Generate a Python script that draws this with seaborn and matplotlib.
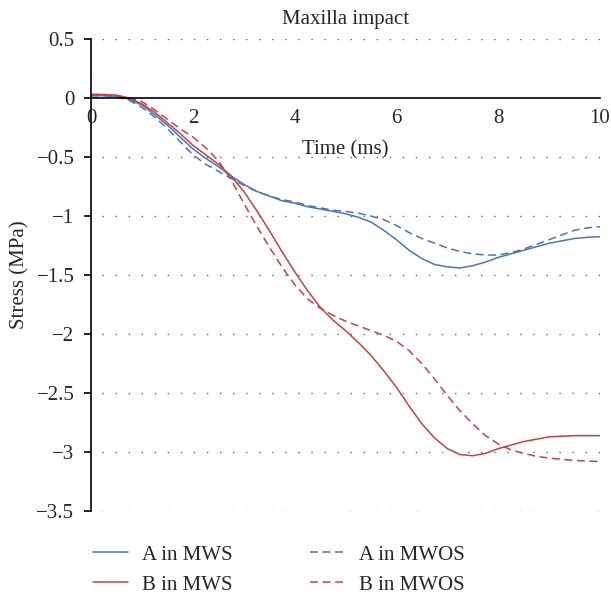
import numpy as np
import pandas as pd
import matplotlib
matplotlib.use("Agg")
import matplotlib.pyplot as plt
import seaborn as sns

time_ms = [0, 0.25, 0.5, 0.75, 1, 1.25, 1.5, 1.75, 2, 2.25, 2.5, 2.75, 3, 3.25, 3.5, 3.75,
           4, 4.25, 4.5, 4.75, 5, 5.25, 5.5, 5.75, 6, 6.25, 6.5, 6.75, 7, 7.25, 7.5, 7.75,
           8, 8.25, 8.5, 8.75, 9, 9.25, 9.5, 9.75, 10]
a_mws = [0.02, 0.02, 0.015, -0.01, -0.06, -0.14, -0.23, -0.33, -0.43, -0.51, -0.58, -0.66,
         -0.73, -0.79, -0.83, -0.87, -0.89, -0.92, -0.94, -0.96, -0.98, -1.01, -1.05, -1.12,
         -1.20, -1.29, -1.36, -1.41, -1.43, -1.44, -1.42, -1.39, -1.35, -1.32, -1.29, -1.26,
         -1.23, -1.21, -1.19, -1.18, -1.175]
a_mwos = [0.02, 0.02, 0.01, -0.02, -0.08, -0.16, -0.26, -0.37, -0.48, -0.56, -0.62, -0.68,
          -0.74, -0.79, -0.83, -0.86, -0.88, -0.91, -0.93, -0.95, -0.96, -0.975, -1.0, -1.03,
          -1.08, -1.14, -1.19, -1.23, -1.27, -1.30, -1.32, -1.33, -1.33, -1.31, -1.28, -1.24,
          -1.20, -1.16, -1.12, -1.10, -1.09]
b_mws = [0.03, 0.03, 0.025, 0.0, -0.05, -0.12, -0.21, -0.30, -0.40, -0.48, -0.56, -0.66,
         -0.79, -0.95, -1.12, -1.30, -1.47, -1.63, -1.77, -1.88, -1.97, -2.07, -2.18, -2.31,
         -2.45, -2.61, -2.76, -2.88, -2.97, -3.02, -3.03, -3.01, -2.97, -2.94, -2.91, -2.89,
         -2.87, -2.865, -2.86, -2.86, -2.86]
b_mwos = [0.03, 0.03, 0.02, 0.0, -0.03, -0.10, -0.18, -0.26, -0.33, -0.42, -0.53, -0.69,
          -0.89, -1.08, -1.26, -1.43, -1.58, -1.70, -1.78, -1.84, -1.89, -1.93, -1.97, -2.01,
          -2.06, -2.14, -2.25, -2.38, -2.52, -2.65, -2.76, -2.86, -2.93, -2.98, -3.01, -3.035,
          -3.05, -3.06, -3.07, -3.075, -3.08]

series_names = ["A in MWS", "B in MWS", "A in MWOS", "B in MWOS"]
x_ticks = [0, 2, 4, 6, 8, 10]
y_ticks = [0.5, 0, -0.5, -1, -1.5, -2, -2.5, -3, -3.5]

BLUE = "#4a75bb"
RED = "#c6433f"

sns.set_style("white")
plt.rcParams["font.family"] = ["Liberation Serif", "DejaVu Serif"]
plt.rcParams["axes.unicode_minus"] = True

FS = 15

fig = plt.figure(figsize=(6.11, 6.0), dpi=100)
ax = fig.add_axes([0.149, 0.148, 0.833, 0.787])

df = pd.DataFrame({
    "t": time_ms * 4,
    "stress": a_mws + b_mws + a_mwos + b_mwos,
    "series": sum([[n] * len(time_ms) for n in series_names], []),
})

palette = {"A in MWS": BLUE, "B in MWS": RED, "A in MWOS": BLUE, "B in MWOS": RED}
dashed = {"A in MWS": False, "B in MWS": False, "A in MWOS": True, "B in MWOS": True}

for name in series_names:
    sub = df[df["series"] == name]
    ls = (0, (5.2, 3.0)) if dashed[name] else "-"
    sns.lineplot(data=sub, x="t", y="stress", ax=ax, color=palette[name],
                 linewidth=1.1, linestyle=ls, label=name, estimator=None, sort=True)

ax.set_xlim(0, 10)
ax.set_ylim(-3.5, 0.5)
ax.set_yticks(y_ticks)
ax.set_yticklabels([f"{v:g}".replace("-", "\u2212") for v in y_ticks])
ax.set_xticks(x_ticks)
ax.set_xticklabels([str(v) for v in x_ticks])

for v in y_ticks:
    if v != 0:
        ax.axhline(v, xmin=0.022, xmax=1.0, color="#666666", linewidth=1.0,
                   linestyle=(0, (1, 8.4)), zorder=0)

ax.spines["top"].set_visible(False)
ax.spines["right"].set_visible(False)
ax.spines["left"].set_color("black")
ax.spines["left"].set_linewidth(1.2)
ax.spines["bottom"].set_position(("data", 0))
ax.spines["bottom"].set_color("black")
ax.spines["bottom"].set_linewidth(1.2)

ax.tick_params(axis="y", which="both", direction="out", length=5, width=1.2,
               color="black", labelsize=FS, pad=7, left=True)
ax.tick_params(axis="x", which="both", length=0, labelsize=FS, pad=8, bottom=True)

ax.set_xlabel("Time (ms)", fontsize=FS, labelpad=9)
ax.set_ylabel("Stress (MPa)", fontsize=FS, labelpad=5)
ax.set_title("Maxilla impact", fontsize=FS, pad=11)

handles, labels = ax.get_legend_handles_labels()
ax.legend(handles, labels, ncol=2,
          loc="upper left", bbox_to_anchor=(-0.033, -0.032), frameon=False,
          fontsize=FS, handlelength=1.7, columnspacing=3.7, labelspacing=0.5,
          handletextpad=0.67)

fig.savefig("out.png", dpi=100)
